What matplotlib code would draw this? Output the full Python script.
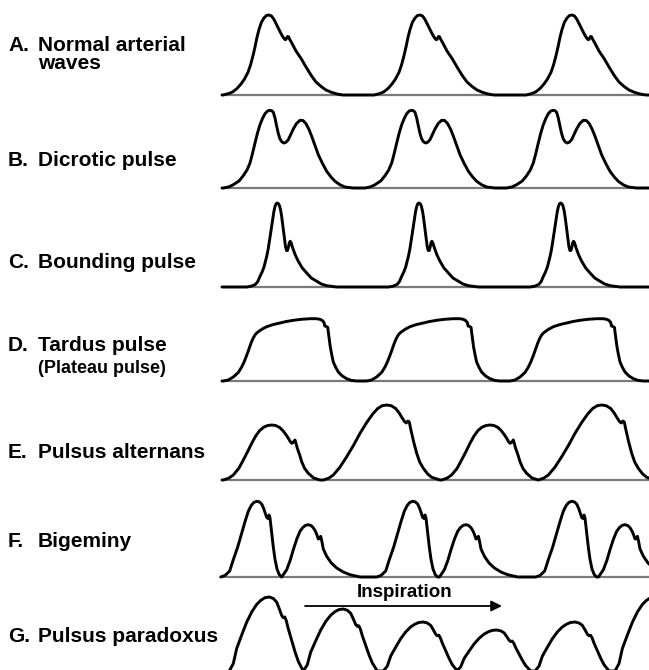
import matplotlib
matplotlib.use("Agg")
import matplotlib.pyplot as plt

plt.rcParams['font.family'] = ['Liberation Sans', 'DejaVu Sans']

# ---- waveform shapes (dt from peak in px, height in px) ----
# A. normal arterial wave
a_dt = [-46, -40, -36, -32, -28, -24.5, -21, -18.5, -16, -14, -12, -10, -7.6, -5, -2.5, 0,
        2.5, 5, 7.5, 10, 12.5, 14.5, 15.7, 16.5, 17.5, 18.5, 19.5, 20.5, 22.4, 27, 32.4, 37,
        42.4, 47, 52.4, 57, 62.4, 68, 74]
a_h = [0, 1.5, 3.3, 6.5, 11, 16, 22.7, 30, 39.3, 48, 57.7, 65.5, 72.7, 77, 79.5, 80,
       79, 75.5, 70.5, 65.5, 60.5, 57.3, 55.7, 55.3, 56.5, 58.5, 58.3, 56, 52.7, 44, 36, 28,
       19.3, 13, 8.3, 5, 2.7, 1, 0]
a_peaks = [269, 420, 572]

# B. dicrotic pulse
b_dt = [-46.7, -41, -36.7, -31, -26.7, -23, -20, -17.5, -15, -12.5, -10, -7.5, -5, -2.5, 0,
        1.7, 3.3, 5, 6.7, 8.3, 10, 12, 14, 16, 18.3, 20.5, 23.3, 26.5, 30, 33, 36, 39,
        41.7, 45, 48.3, 52.5, 56.7, 61, 65, 70, 75, 83.3]
b_h = [0, 1.2, 3.3, 7, 12.3, 18, 25, 34.5, 45, 55, 63.3, 69.5, 74.3, 77, 77.7,
       77.3, 75.7, 70, 61.7, 54.5, 49, 46, 45, 45.8, 48.3, 53, 59, 64.5, 67.7, 67.5, 64.3, 58.5,
       51.7, 42.5, 33.3, 24.5, 16.7, 11, 6.7, 3.2, 1, 0]
b_peaks = [270, 411.7, 553.3]

# C. bounding pulse
c_dt = [-30.6, -26, -22, -19.5, -17.3, -15.2, -13.3, -12, -10.6, -9.2, -8, -6.8, -5.6, -4.5,
        -3.5, -2.3, -1.2, 0, 1.2, 2.3, 3.4, 4.5, 5.7, 7, 8.2, 9.2, 10.2, 11.2, 12.1, 12.9,
        13.7, 14.6, 15.6, 18, 21, 25, 29.4, 34, 39.4, 44, 49.4, 59.4]
c_h = [0, 0.8, 2.5, 5.5, 10.7, 15, 20, 25, 30.7, 37.5, 45, 53, 61, 68.5,
       75, 80.5, 83.3, 84, 83.3, 81, 76.5, 69.5, 60, 49, 40.5, 36.5, 36.5, 40, 44.5, 45.7,
       44.5, 41.5, 38.5, 32, 25.7, 19, 14, 9, 5.7, 3, 1.3, 0]
c_peaks = [277.3, 419, 560.7]

# D. tardus pulse (dt from the shoulder)
d_dt = [-30, -25, -20, -15, -11.6, -9, -6.6, -4.5, -2.6, -1.2, 0.2, 1.8, 3.6, 5.6, 9, 13.4,
        20, 26.7, 33, 40, 48, 56.7, 63, 66.7, 69, 70.7, 71.5, 73, 74.5, 75, 76.2, 77, 78.5,
        80, 82.5, 85, 89, 93.4, 98, 103.4]
d_h = [0, 1, 4, 8.5, 14, 19.5, 25.7, 31.5, 37, 40.5, 43.5, 46.2, 48.2, 49.7, 52, 54.3,
       56.5, 58, 59.5, 60.7, 61.7, 62.3, 62.3, 61.7, 60.5, 58.5, 55, 54.5, 53.5, 49, 40, 34,
       26, 19, 13.5, 9, 5, 2.3, 0.6, 0]
d_shoulders = [253.3, 396.6, 540]

# E. pulsus alternans: a small and a big beat
e_small_dt = [-48.4, -43, -38.4, -33, -28.4, -24, -20, -16, -12, -8, -4, 0, 4, 8, 11.5, 14.5,
              16.8, 18.5, 20, 21.5, 23.3, 24.5, 25.6, 28, 30, 33, 36.6, 42, 48.3]
e_small_h = [0, 1.8, 5, 11.5, 20, 28.5, 36.7, 44, 49.5, 52.8, 54.5, 55, 54.5, 52.5, 49, 45,
             41.5, 38.5, 36.7, 37.5, 40, 36, 31.7, 25, 18.3, 11.5, 6.7, 2, 0]
e_big_dt = [-63.4, -58, -53.4, -47, -40, -33, -26.7, -20, -14, -9, -4.5, 0, 4.5, 9, 12.5,
            15.5, 17.8, 19.5, 21.2, 22.6, 24, 27, 30, 33, 36.6, 41, 45, 53.3]
e_big_h = [0, 1.8, 5, 12.5, 23.3, 35, 46.7, 57.5, 66, 71.5, 74.3, 75, 74.3, 71.5, 67, 62,
           58.5, 57, 59, 58, 51, 38, 26.7, 18, 11.7, 6, 2.7, 0]
e_peaks = [271.7, 386.7, 490, 601.7]
e_kind = ['small', 'big', 'small', 'big']

# F. bigeminy: a normal beat and an early, weaker one
f_big_dt = [-36, -31.7, -27, -23.4, -19, -15, -11.5, -8.4, -5.5, -3, 0, 2.5, 5, 7, 8.5, 10,
            11.3, 12.3, 13.3, 15, 16.6, 18.3, 20.3, 22.6, 25]
f_big_h = [0, 1.5, 6, 17.3, 30, 44, 56, 65.7, 71.5, 74.5, 75.7, 75.2, 73, 68.5, 64, 59.5,
           58.5, 62, 59, 44.3, 30, 17.7, 8, 2.3, 0]
f_small_dt = [-26.6, -21.6, -18, -15, -11.5, -8.3, -5.5, -2.7, 0, 2.7, 5, 7, 8.5, 10, 11,
              12.4, 13.5, 15, 18.4, 23, 28.4, 35, 41.7, 51.7]
f_small_h = [0, 7.3, 17, 27.3, 38, 45.7, 49.5, 51.7, 52.3, 51.5, 49.3, 46, 42.5, 38, 38.3,
             40.7, 36, 28, 20.7, 14, 9, 5, 2.3, 0]
f_peaks = [256.7, 308.3, 412.7, 466, 571.7, 625]
f_kind = ['big', 'small', 'big', 'small', 'big', 'small']

# G. pulsus paradoxus (height as a fraction of each beat's amplitude)
g_dt = [-40, -36, -32.6, -27.5, -22.6, -17.5, -12.6, -8.5, -4.5, 0, 4, 7.4, 10, 12.4, 14,
        15.5, 17, 19, 22.5, 25.7, 29, 32, 34]
g_frac = [0, 0.1, 0.305, 0.49, 0.66, 0.8, 0.9, 0.955, 0.99, 1, 0.98, 0.93, 0.84, 0.75, 0.72,
          0.73, 0.68, 0.57, 0.41, 0.26, 0.13, 0.05, 0]
g_peaks = [269.3, 343.3, 423.3, 496.7, 575, 655]
g_amp = [74, 62, 49, 41, 49, 74]

# label letter, name, baseline y
labels = [('A.', 'Normal arterial', 51), ('B.', 'Dicrotic pulse', 166),
          ('C.', 'Bounding pulse', 268), ('D.', 'Tardus pulse', 351),
          ('E.', 'Pulsus alternans', 458), ('F.', 'Bigeminy', 547),
          ('G.', 'Pulsus paradoxus', 642)]
sub_labels = [('waves', 69, 15), ('(Plateau pulse)', 373, 13)]
row_bases = [95, 188, 287, 381, 480, 577]

W, H = 649, 670
fig = plt.figure(figsize=(W / 100, H / 100), dpi=100)
ax = fig.add_axes([0, 0, 1, 1])
ax.set_xlim(0, W)
ax.set_ylim(H, 0)
ax.axis('off')

line_kw = dict(color='black', lw=2.1, solid_joinstyle='round', solid_capstyle='round')


def trace(base, beats, x_start=None, x_end=None):
    xs, ys = [], []
    for x0, dts, hs, scale in beats:
        xs += [x0 + d for d in dts]
        ys += [base - scale * h for h in hs]
    if x_start is not None and xs[0] > x_start:
        xs.insert(0, x_start)
        ys.insert(0, base)
    if x_end is not None and xs[-1] < x_end:
        xs.append(x_end)
        ys.append(base)
    ax.plot(xs, ys, **line_kw)


# baselines for rows A-F
for base in row_bases:
    ax.plot([222, W], [base, base], color='#7a7a7a', lw=1.6, zorder=1)

trace(95, [(p, a_dt, a_h, 1) for p in a_peaks], 222, W)
trace(188, [(p, b_dt, b_h, 1) for p in b_peaks], 222, W)
trace(287, [(p, c_dt, c_h, 1) for p in c_peaks], 222, W)
trace(381, [(p, d_dt, d_h, 1) for p in d_shoulders], 222, W)

e_shapes = {'small': (e_small_dt, e_small_h), 'big': (e_big_dt, e_big_h)}
trace(480, [(p, *e_shapes[k], 1) for p, k in zip(e_peaks, e_kind)], 222, W)

f_shapes = {'big': (f_big_dt, f_big_h), 'small': (f_small_dt, f_small_h)}
trace(577, [(p, *f_shapes[k], 1) for p, k in zip(f_peaks, f_kind)], 222, W)

trace(671, [(p, g_dt, g_frac, a) for p, a in zip(g_peaks, g_amp)])

# inspiration arrow
ax.annotate('', xy=(502, 606), xytext=(305, 606),
            arrowprops=dict(arrowstyle='-|>', color='black', lw=1.3, mutation_scale=16,
                            shrinkA=0, shrinkB=0))
ax.text(405, 597, 'Inspiration', fontsize=13.5, fontweight='bold', ha='center',
        va='baseline')

for letter, name, y in labels:
    ax.text(8, y, letter, fontsize=15, fontweight='bold', ha='left', va='baseline')
    ax.text(38, y, name, fontsize=15, fontweight='bold', ha='left', va='baseline')
for name, y, size in sub_labels:
    ax.text(38, y, name, fontsize=size, fontweight='bold', ha='left', va='baseline')

fig.savefig('out.png', dpi=100)
